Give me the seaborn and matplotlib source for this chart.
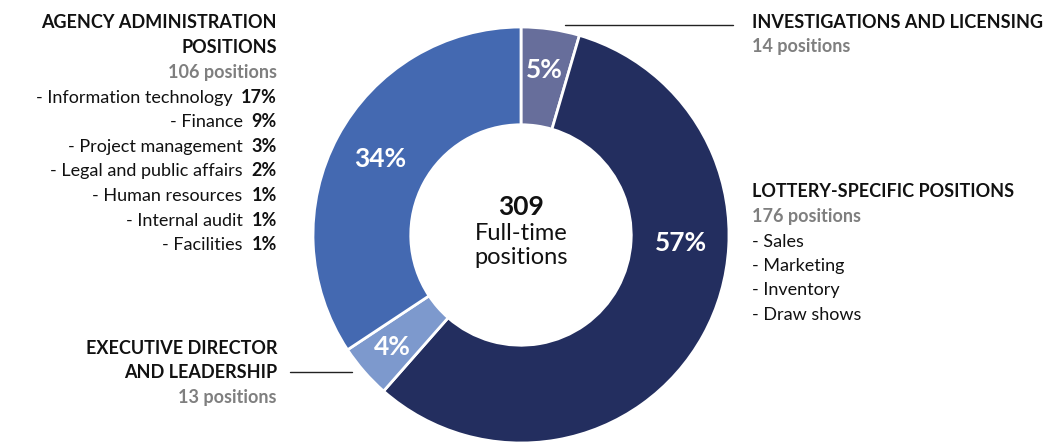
import numpy as np
import matplotlib
matplotlib.use("Agg")
import matplotlib.pyplot as plt
import seaborn as sns

# Data (order = clockwise from 12 o'clock)
groups = ["INVESTIGATIONS AND LICENSING", "LOTTERY-SPECIFIC POSITIONS",
          "EXECUTIVE DIRECTOR AND LEADERSHIP", "AGENCY ADMINISTRATION POSITIONS"]
positions = [14, 176, 13, 106]
shares = ["5%", "57%", "4%", "34%"]
colors = ["#676e9b", "#232e5f", "#7d99cd", "#4469b1"]

admin_roles = ["Information technology", "Finance", "Project management",
               "Legal and public affairs", "Human resources", "Internal audit", "Facilities"]
admin_shares = ["17%", "9%", "3%", "2%", "1%", "1%", "1%"]
lottery_roles = ["Sales", "Marketing", "Inventory", "Draw shows"]
total = sum(positions)

sns.set_theme(style="white")
plt.rcParams["font.family"] = ["Lato", "DejaVu Sans"]

W, H = 1051, 443
fig = plt.figure(figsize=(W / 100, H / 100), dpi=100)

# donut
cx, cy, R = 521, 235, 208
ax = fig.add_axes([(cx - R) / W, (H - cy - R) / H, 2 * R / W, 2 * R / H])
ax.pie(positions, colors=sns.color_palette(colors), startangle=90, counterclock=False,
       radius=1, wedgeprops=dict(width=0.47, edgecolor="white", linewidth=2))
ax.set_xlim(-1, 1)
ax.set_ylim(-1, 1)
ax.set_aspect("equal")
ax.axis("off")

# percentage labels inside the ring
frac = np.array(positions) / total
label_angle = (np.cumsum(frac) - frac / 2) * 360
label_angle[1] = 93  # the big slice has its label near 3 o'clock
label_r = [0.80, 0.77, 0.82, 0.77]
for s, a, r in zip(shares, label_angle, label_r):
    t = np.radians(a)
    ax.text(r * np.sin(t), r * np.cos(t), s, color="white", fontsize=19,
            fontweight="bold", ha="center", va="center")

# overlay in pixel coordinates for the annotations
ov = fig.add_axes([0, 0, 1, 1])
ov.set_xlim(0, W)
ov.set_ylim(H, 0)
ov.axis("off")
dark, gray = "#111111", "#7f7f7f"
renderer = fig.canvas.get_renderer()


def txt(x, y, s, size=13, bold=False, color=dark, ha="left"):
    return ov.text(x, y + 6.5, s, fontsize=size, fontweight="bold" if bold else "normal",
                   color=color, ha=ha, va="baseline")


# agency administration (left, right-aligned)
xr = 277
txt(xr, 21, "AGENCY ADMINISTRATION", 13, True, ha="right")
txt(xr, 46, "POSITIONS", 13, True, ha="right")
txt(xr, 71, f"{positions[3]} positions", 13, True, gray, ha="right")
for i, (role, share) in enumerate(zip(admin_roles, admin_shares)):
    y = 96 + 24.6 * i
    t = txt(xr, y, share, bold=True, ha="right")
    w = t.get_window_extent(renderer).width
    txt(xr - w - 9, y, f"- {role}", ha="right")

# executive director (left bottom)
txt(xr, 348, "EXECUTIVE DIRECTOR", 13, True, ha="right")
txt(xr, 372, "AND LEADERSHIP", 13, True, ha="right")
txt(xr, 397, f"{positions[2]} positions", 13, True, gray, ha="right")
ov.plot([290, 352], [372, 372], color="#222222", lw=1)

# investigations (top right)
xl = 752
txt(xl, 21, groups[0], 13, True)
txt(xl, 45, f"{positions[0]} positions", 13, True, gray)
ov.plot([565, 733], [25, 25], color="#222222", lw=1)

# lottery-specific (right)
txt(xl, 190, groups[1], 13, True)
txt(xl, 215, f"{positions[1]} positions", 13, True, gray)
for i, role in enumerate(lottery_roles):
    txt(xl, 240 + 24.5 * i, f"- {role}")

# centre text
ov.text(cx, 207, f"{total}", fontsize=19, fontweight="bold", color=dark, ha="center", va="center")
ov.text(cx, 233, "Full-time", fontsize=17, color=dark, ha="center", va="center")
ov.text(cx, 258, "positions", fontsize=17, color=dark, ha="center", va="center")

fig.savefig("out.png", dpi=100)
